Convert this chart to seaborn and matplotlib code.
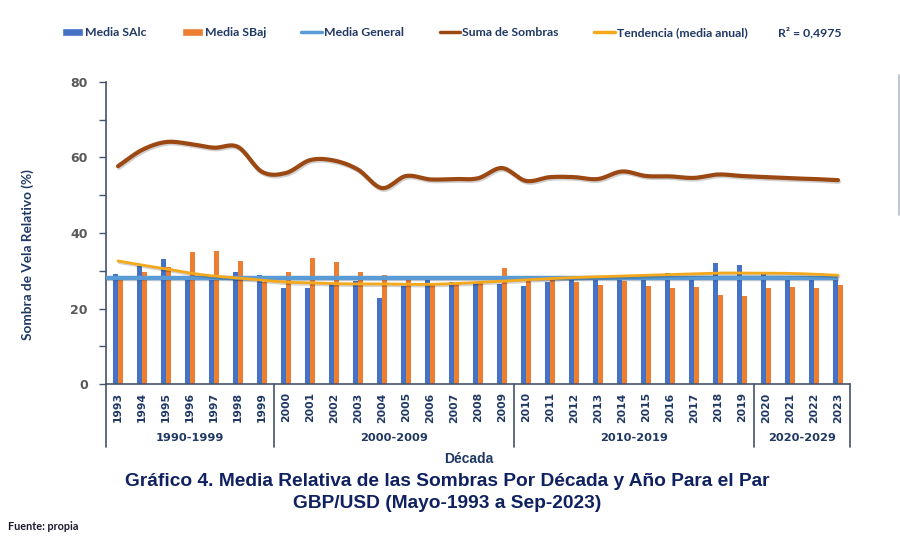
import numpy as np
import pandas as pd
import matplotlib
matplotlib.use("Agg")
import matplotlib.pyplot as plt
import matplotlib.patheffects as pe
from matplotlib.patches import Patch
from matplotlib.lines import Line2D
from matplotlib.transforms import blended_transform_factory
import seaborn as sns

# ---------------- data ----------------
years = list(range(1993, 2024))
media_salc = [29.1, 31.3, 33.0, 28.0, 27.5, 29.7, 29.0,
              25.5, 25.5, 26.7, 27.3, 22.7, 26.0, 27.8, 27.1, 26.7, 26.4,
              26.0, 26.9, 27.5, 27.7, 28.0, 28.0, 29.3, 28.0, 32.0, 31.5,
              29.1, 28.0, 28.0, 27.5]
media_sbaj = [28.0, 29.7, 30.9, 34.9, 35.2, 32.5, 27.1,
              29.7, 33.5, 32.4, 29.6, 28.9, 27.8, 26.2, 26.7, 27.3, 30.8,
              27.3, 27.5, 26.9, 26.2, 27.3, 26.0, 25.3, 25.8, 23.6, 23.3,
              25.3, 25.8, 25.3, 26.2]
suma_sombras = [57.7, 62.0, 64.1, 63.6, 62.6, 62.8, 56.2,
                55.9, 59.3, 59.2, 56.8, 51.9, 55.1, 54.2, 54.3, 54.5, 57.2,
                53.8, 54.8, 54.8, 54.3, 56.3, 55.1, 55.0, 54.6, 55.5, 55.1,
                54.8, 54.5, 54.3, 54.0]
tendencia = [32.6, 31.5, 30.5, 29.4, 28.6, 28.1, 27.5,
             27.0, 26.8, 26.6, 26.5, 26.5, 26.4, 26.4, 26.6, 26.9, 27.2,
             27.6, 27.9, 28.2, 28.4, 28.6, 28.8, 29.0, 29.2, 29.4, 29.4,
             29.4, 29.3, 29.1, 28.8]
media_general = 28.2
r2_text = "R² = 0,4975"
decades = ["1990-1999", "2000-2009", "2010-2019", "2020-2029"]
y_ticks = [0, 20, 40, 60, 80]

title_lines = ["Gráfico 4. Media Relativa de las Sombras Por Década y Año Para el Par",
               "GBP/USD (Mayo-1993 a Sep-2023)"]

# ---------------- style ----------------
C_BLUE = "#4472c4"
C_ORANGE = "#ed7d31"
C_MG = "#5b9bd5"
C_SUMA = "#9c4813"
C_TREND = "#f4a81c"
NAVY = "#1f3864"
AXIS = "#44546a"

sns.set_style("white")
plt.rcParams["font.family"] = ["DejaVu Sans"]

fig = plt.figure(figsize=(9, 5.4), dpi=100)
ax = fig.add_axes([106 / 900, 1 - 384 / 540, 744 / 900, 302 / 540])

n = len(years)
xpos = np.arange(n)
ylabels = [str(y) for y in years]

df = pd.DataFrame({
    "Año": ylabels * 2,
    "Serie": ["Media SAlc"] * n + ["Media SBaj"] * n,
    "Valor": media_salc + media_sbaj,
})
sns.barplot(data=df, x="Año", y="Valor", hue="Serie", order=ylabels,
            palette=[C_BLUE, C_ORANGE], width=0.44, saturation=1,
            linewidth=0, edgecolor="none",
            legend=False, ax=ax, zorder=2)


def smooth(xs, ys, k=16):
    xs = np.asarray(xs, float)
    ys = np.asarray(ys, float)
    px = np.concatenate([[2 * xs[0] - xs[1]], xs, [2 * xs[-1] - xs[-2]]])
    py = np.concatenate([[2 * ys[0] - ys[1]], ys, [2 * ys[-1] - ys[-2]]])
    ox, oy = [], []
    t = np.linspace(0, 1, k, endpoint=False)
    for i in range(1, len(px) - 2):
        p0x, p1x, p2x, p3x = px[i - 1:i + 3]
        p0y, p1y, p2y, p3y = py[i - 1:i + 3]
        t2, t3 = t * t, t * t * t
        ox.append(0.5 * (2 * p1x + (-p0x + p2x) * t + (2 * p0x - 5 * p1x + 4 * p2x - p3x) * t2
                         + (-p0x + 3 * p1x - 3 * p2x + p3x) * t3))
        oy.append(0.5 * (2 * p1y + (-p0y + p2y) * t + (2 * p0y - 5 * p1y + 4 * p2y - p3y) * t2
                         + (-p0y + 3 * p1y - 3 * p2y + p3y) * t3))
    ox.append([xs[-1]])
    oy.append([ys[-1]])
    return np.concatenate(ox), np.concatenate(oy)


shadow = [pe.SimpleLineShadow(offset=(0.8, -1.2), alpha=0.18), pe.Normal()]

ax.plot([-0.5, n - 1], [media_general, media_general], color=C_MG, lw=3.2,
        solid_capstyle="butt", zorder=3, path_effects=shadow)
sx, sy = smooth(xpos, tendencia)
ax.plot(sx, sy, color=C_TREND, lw=2.0, zorder=4, path_effects=shadow)
sx, sy = smooth(xpos, suma_sombras)
ax.plot(sx, sy, color=C_SUMA, lw=3.0, zorder=5, path_effects=shadow)

# axes
ax.set_xlim(-0.5, n - 0.5)
ax.set_ylim(0, 80)
ax.set_yticks(y_ticks)
ax.set_yticks(np.arange(0, 81, 10), minor=True)
ax.tick_params(axis="y", which="both", direction="out", length=5, width=1,
               color=AXIS, left=True, labelsize=9, labelcolor="#595959", pad=8)
for lab in ax.get_yticklabels():
    lab.set_fontweight("bold")
ax.tick_params(axis="x", length=0, pad=6)
ax.set_xticks(xpos)
ax.set_xticklabels(ylabels, rotation=90, fontsize=7.8, fontweight="bold",
                   color=NAVY)
ax.set_xlabel("")
ax.set_ylabel("")
for s in ["top", "right"]:
    ax.spines[s].set_visible(False)
ax.spines["left"].set_color(AXIS)
ax.spines["left"].set_linewidth(1.2)
ax.spines["bottom"].set_color(AXIS)
ax.spines["bottom"].set_linewidth(1.2)
ax.grid(False)

# decade grouping
trans = blended_transform_factory(ax.transData, ax.transAxes)
dec_of_year = [f"{(y // 10) * 10}-{(y // 10) * 10 + 9}" for y in years]
bounds = [-0.5]
for d in decades:
    idx = [i for i, v in enumerate(dec_of_year) if v == d]
    lo, hi = idx[0] - 0.5, idx[-1] + 0.5
    bounds.append(hi)
    ax.text((lo + hi) / 2, -0.178, d, transform=trans, ha="center", va="center",
            fontsize=8.2, fontweight="bold", color=NAVY)
for b in bounds:
    ax.plot([b, b], [0, -0.21], transform=trans, color=AXIS, lw=1.2, clip_on=False)

# texts
fig.text(28 / 900, 1 - 255 / 540, "Sombra de Vela Relativo (%)", rotation=90,
         ha="center", va="center", fontsize=9.8, fontweight="bold", color=NAVY,
         family=["Lato", "DejaVu Sans"])
fig.text(469 / 900, 1 - 459 / 540, "Década", ha="center", va="center",
         fontsize=10, fontweight="bold", color=NAVY,
         family=["Liberation Sans", "DejaVu Sans"])
fig.text(447 / 900, 1 - 481 / 540, title_lines[0], ha="center", va="center",
         fontsize=13.8, fontweight="bold", color="#0f2160",
         family=["Liberation Sans", "DejaVu Sans"])
fig.text(447 / 900, 1 - 504 / 540, title_lines[1], ha="center", va="center",
         fontsize=13.8, fontweight="bold", color="#0f2160",
         family=["Liberation Sans", "DejaVu Sans"])
fig.text(8 / 900, 1 - 527 / 540, "Fuente: propia", ha="left", va="center",
         fontsize=7.8, fontweight="bold", color="#1a1a2e",
         family=["Lato", "DejaVu Sans"])

# legend
handles = [Patch(facecolor=C_BLUE), Patch(facecolor=C_ORANGE),
           Line2D([], [], color=C_MG, lw=2.5), Line2D([], [], color=C_SUMA, lw=2.5),
           Line2D([], [], color=C_TREND, lw=2.5)]
labels = ["Media SAlc", "Media SBaj", "Media General", "Suma de Sombras",
          "Tendencia (media anual)"]
leg = fig.legend(handles, labels, ncol=5, loc="center",
                 bbox_to_anchor=(405 / 900, 1 - 33 / 540), frameon=False,
                 prop={"family": ["Lato", "DejaVu Sans"], "weight": "bold", "size": 8.8},
                 handlelength=1.7, handleheight=0.6, handletextpad=0.15,
                 columnspacing=2.9)
for t in leg.get_texts():
    t.set_color(NAVY)
fig.text(778 / 900, 1 - 33 / 540, r2_text, ha="left", va="center",
         fontsize=8.8, fontweight="bold", color=NAVY,
         family=["Lato", "DejaVu Sans"])

# small vertical artifact at right edge
fig.add_artist(Line2D([898.5 / 900, 898.5 / 900], [1 - 75 / 540, 1 - 215 / 540],
                      color="#b4bccb", lw=1.2))

fig.savefig("out.png", dpi=100)
